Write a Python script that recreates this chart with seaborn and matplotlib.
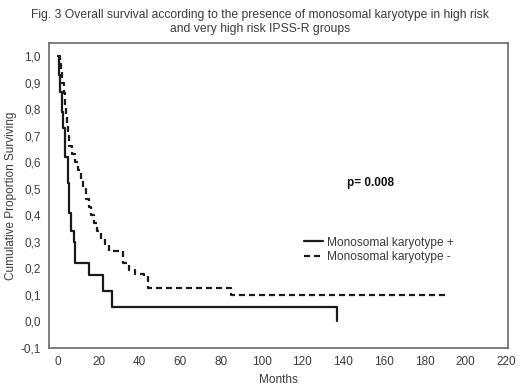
import matplotlib
matplotlib.use("Agg")
import matplotlib.pyplot as plt
import seaborn as sns
import pandas as pd

# Kaplan-Meier steps (time in months, survival after step)
mk_pos_months = [0, 0.5, 1.0, 2.0, 2.5, 3.5, 4.8, 5.6, 6.6, 7.6, 8.4, 15, 22.3, 26.3, 137]
mk_pos_surv = [1.0, 0.93, 0.865, 0.79, 0.73, 0.62, 0.52, 0.41, 0.34, 0.30, 0.22, 0.175, 0.115, 0.055, 0.0]

mk_neg_months = [0, 1.0, 1.5, 2.0, 2.8, 3.3, 3.8, 4.3, 4.8, 5.2, 7.0, 8.5, 10.0, 11.2, 12.5,
                 13.8, 15.0, 16.2, 17.5, 19.0, 21.0, 23.0, 25.0, 32.0, 35.0, 38.0, 42.0, 44.0, 85.0, 190.0]
mk_neg_surv = [1.0, 0.97, 0.94, 0.90, 0.86, 0.82, 0.78, 0.74, 0.70, 0.66, 0.63, 0.60, 0.57, 0.53, 0.50,
               0.46, 0.43, 0.40, 0.37, 0.34, 0.31, 0.29, 0.265, 0.22, 0.195, 0.18, 0.17, 0.125, 0.10, 0.10]

groups = ["Monosomal karyotype +", "Monosomal karyotype -"]
x_ticks = [0, 20, 40, 60, 80, 100, 120, 140, 160, 180, 200, 220]
y_ticks = [-0.1, 0.0, 0.1, 0.2, 0.3, 0.4, 0.5, 0.6, 0.7, 0.8, 0.9, 1.0]

df = pd.concat([
    pd.DataFrame({"Months": mk_pos_months, "Survival": mk_pos_surv, "group": groups[0]}),
    pd.DataFrame({"Months": mk_neg_months, "Survival": mk_neg_surv, "group": groups[1]}),
])

sns.set_theme(style="white")
plt.rcParams["font.family"] = ["Liberation Sans", "DejaVu Sans"]
txt = "#3c3c3c"

fig = plt.figure(figsize=(5.2, 3.86), dpi=100)
ax = fig.add_axes([0.094, 0.099, 0.883, 0.790])

sns.lineplot(data=df, x="Months", y="Survival", style="group", style_order=groups,
             dashes={groups[0]: "", groups[1]: (2.7, 1.8)}, color="#1a1a1a",
             estimator=None, sort=False, drawstyle="steps-post", linewidth=1.6, ax=ax)

ax.set_xlim(-4.5, 221)
ax.set_ylim(-0.1, 1.05)
ax.set_xticks(x_ticks)
ax.set_yticks(y_ticks)
ax.set_yticklabels([f"{v:.1f}".replace(".", ",") for v in y_ticks])
ax.tick_params(length=0, labelsize=8.5, labelcolor=txt, pad=6)
for s in ax.spines.values():
    s.set_color("#6a6a6a")
    s.set_linewidth(1.2)

ax.set_xlabel("Months", fontsize=8.5, color=txt, labelpad=4)
ax.set_ylabel("Cumulative Proportion Surviving", fontsize=8.5, color=txt, labelpad=2)

ax.text(142, 0.52, "p= 0.008", fontsize=8.5, fontweight="bold", color="#111111", va="center")

leg = ax.legend(loc="upper left", bbox_to_anchor=(0.532, 0.40), frameon=False,
                handlelength=1.6, handletextpad=0.3, labelspacing=0.2, fontsize=8.6)
for t in leg.get_texts():
    t.set_color(txt)

fig.text(0.5, 0.943, "Fig. 3 Overall survival according to the presence of monosomal karyotype in high risk\n"
         "and very high risk IPSS-R groups", ha="center", va="center", fontsize=8.7, color=txt,
         linespacing=1.15)

fig.savefig("out.png", dpi=100)
